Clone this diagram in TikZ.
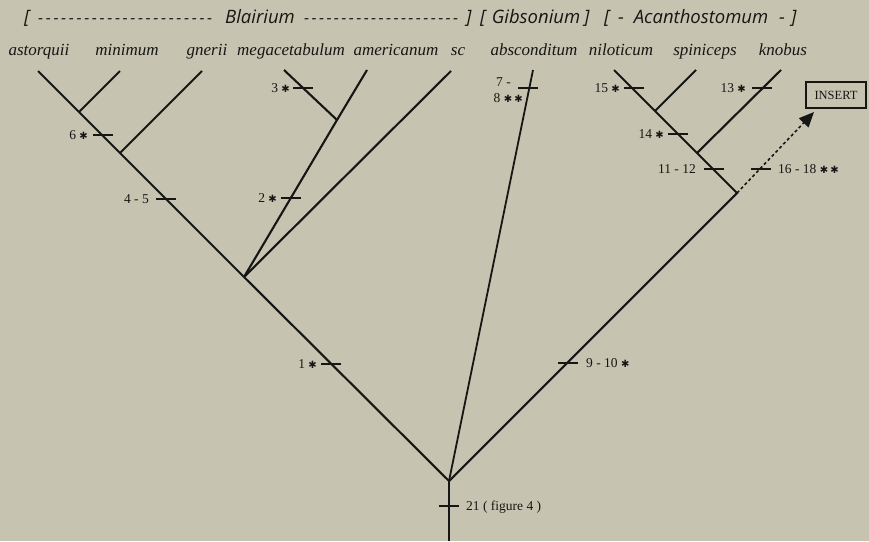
\documentclass[tikz,border=0pt]{standalone}
\usepackage{fontspec}
\setmainfont{Liberation Serif}
\newfontfamily\hdrfont{Open Sans}
\newfontfamily\symfont{DejaVu Sans}
\usetikzlibrary{arrows.meta}
\definecolor{bg}{RGB}{199,195,177}
\definecolor{ink}{RGB}{22,22,20}
\newcommand{\stR}{{\symfont\fontsize{10}{10}\selectfont ✱}}
\newcommand{\dashrow}[2]{\makebox[#1][s]{\foreach \i in {2,...,#2}{-\hfill}-}}
\begin{document}
\begin{tikzpicture}[x=1pt,y=-1pt,
  branch/.style={draw=ink,line width=2.1pt},
  tickmark/.style={draw=ink,line width=1.5pt},
  num/.style={text=ink,font=\fontsize{13.5}{13.5}\selectfont,inner sep=0pt},
  sp/.style={text=ink,font=\itshape\fontsize{17}{17}\selectfont,inner sep=0pt,anchor=base},
  hdr/.style={text=ink,font=\hdrfont\itshape\fontsize{18.5}{18.5}\selectfont,inner sep=0pt},
  hdash/.style={text=ink,font=\hdrfont\itshape\fontsize{16}{16}\selectfont,inner sep=0pt},
  dotarrow/.style={draw=ink,line width=1.6pt,dash pattern=on 3pt off 2.6pt,-{Triangle[length=15pt,width=13pt]}}]
\fill[bg] (0,0) rectangle (869,541);
\useasboundingbox (0,0) rectangle (869,541);
% header
\node[hdr,anchor=base west] (hb1) at (24,23) {[};
\node[hdash,anchor=base west] (hd1) at (38,23) {\dashrow{174pt}{23}};
\node[hdr,anchor=base] (hBla) at (260,23) {Blairium};
\node[hdash,anchor=base west] (hd2) at (304,23) {\dashrow{154pt}{21}};
\node[hdr,anchor=base west] (hb2) at (466,23) {]};
\node[hdr,anchor=base west] (hb3) at (480,23) {[};
\node[hdr,anchor=base] (hGib) at (536,23) {Gibsonium};
\node[hdr,anchor=base west] (hb4) at (584,23) {]};
\node[hdr,anchor=base west] (hb5) at (604,23) {[};
\node[hdr,anchor=base west] (hd3) at (618,23) {-};
\node[hdr,anchor=base] (hAca) at (701,23) {Acanthostomum};
\node[hdr,anchor=base west] (hd4) at (779,23) {-};
\node[hdr,anchor=base west] (hb6) at (791,23) {]};
% species
\node[sp] (sAst) at (39,55) {astorquii};
\node[sp] (sMin) at (127,55) {minimum};
\node[sp] (sGne) at (207,55) {gnerii};
\node[sp] (sMeg) at (291,55) {megacetabulum};
\node[sp] (sAme) at (396,55) {americanum};
\node[sp] (sSc) at (458,55) {sc};
\node[sp] (sAbs) at (534,55) {absconditum};
\node[sp] (sNil) at (621,55) {niloticum};
\node[sp] (sSpi) at (705,55) {spiniceps};
\node[sp] (sKno) at (783,55) {knobus};
% tree coordinates
\coordinate (R) at (449,481);
\coordinate (Rb) at (449,541);
\coordinate (B) at (244,277);
\coordinate (G) at (120,153);
\coordinate (M) at (79,112);
\coordinate (lAst) at (38,71);
\coordinate (lMin) at (120,71);
\coordinate (lGne) at (202,71);
\coordinate (J) at (337,120);
\coordinate (lMeg) at (284,70);
\coordinate (lAme) at (367,70);
\coordinate (lSc) at (451,71);
\coordinate (lAbs) at (533,70);
\coordinate (C) at (737,193);
\coordinate (S) at (655,111);
\coordinate (K) at (697,153);
\coordinate (lNil) at (614,70);
\coordinate (lSpi) at (696,70);
\coordinate (lKno) at (781,70);
\coordinate (tipI) at (814,112);
% branches
\draw[branch] (Rb) -- (R);
\draw[branch] (R) -- (B) -- (G) -- (M) -- (lAst);
\draw[branch] (M) -- (lMin);
\draw[branch] (G) -- (lGne);
\draw[branch] (B) -- (J) -- (lAme);
\draw[branch] (J) -- (lMeg);
\draw[branch] (B) -- (lSc);
\draw[branch,line width=1.8pt] (R) -- (lAbs);
\draw[branch] (R) -- (C) -- (K) -- (S) -- (lNil);
\draw[branch] (S) -- (lSpi);
\draw[branch] (K) -- (lKno);
% insert box and arrow
\node[draw=ink,line width=1.4pt,minimum width=60pt,minimum height=26pt,inner sep=0pt,text=ink,font=\fontsize{12.5}{12.5}\selectfont] (ins) at (836,95) {INSERT};
\draw[dotarrow] (C) -- (tipI);
% ticks
\foreach \x/\y in {103/135,166/199,303/88,291/198,331/364,528/88,568/363,634/88,678/134,714/169,762/88,761/169,449/506}
  \draw[tickmark] (\x-10,\y) -- (\x+10,\y);
% tick labels
\node[num,anchor=base east] (n6) at (88,139.5) {6 \stR};
\node[num,anchor=base east] (n45) at (149,203.5) {4 - 5};
\node[num,anchor=base east] (n3) at (290,92.5) {3 \stR};
\node[num,anchor=base east] (n2) at (277,202.5) {2 \stR};
\node[num,anchor=base east] (n1) at (317,368.5) {1 \stR};
\node[num,anchor=base west] (n910) at (586,367.5) {9 - 10 \stR};
\node[num,anchor=base east] (n7) at (511,86.5) {7 -};
\node[num,anchor=base east] (n8) at (523,102.5) {8 \stR\,\stR};
\node[num,anchor=base east] (n15) at (620,92.5) {15 \stR};
\node[num,anchor=base east] (n14) at (664,138.5) {14 \stR};
\node[num,anchor=base east] (n1112) at (696,173.5) {11 - 12};
\node[num,anchor=base east] (n13) at (746,92.5) {13 \stR};
\node[num,anchor=base west] (n1618) at (778,173.5) {16 - 18 \stR\,\stR};
\node[num,anchor=base west] (n21) at (466,510.5) {21 ( figure 4 )};
\end{tikzpicture}
\end{document}
